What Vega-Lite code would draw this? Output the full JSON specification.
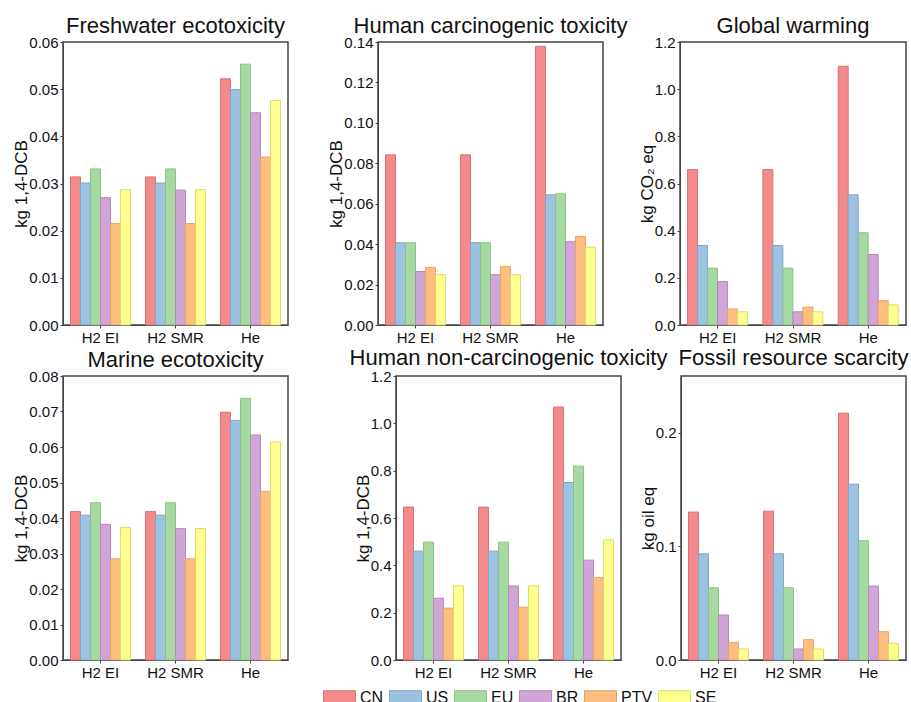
{
"$schema": "https://vega.github.io/schema/vega-lite/v6.json",
"background": "white",
"padding": {"left": 12, "top": 14, "right": 0, "bottom": 0},
"config": {
  "font": "Liberation Sans",
  "view": {"stroke": "#444", "strokeWidth": 1.5},
  "axis": {"grid": false, "domainColor": "#444", "tickColor": "#444", "tickSize": 3, "labelFont": "Liberation Sans", "labelFontSize": 15, "labelColor": "#111", "labelPadding": 2, "titleFont": "Liberation Sans", "titleFontSize": 17, "titleFontWeight": "normal", "titleColor": "#111", "titlePadding": -2},
  "title": {"font": "Liberation Sans", "fontSize": 22, "fontWeight": "normal", "color": "#111", "anchor": "middle", "frame": "group", "offset": -3},
  "legend": {"orient": "none", "legendX": 260, "legendY": 639, "direction": "horizontal", "title": null, "symbolType": "M-1,-0.44H1V0.44H-1Z", "symbolSize": 1024, "symbolStrokeWidth": 1, "labelFont": "Liberation Sans", "labelFontSize": 16, "labelColor": "#111", "labelOffset": 4, "columnPadding": 3}
},
"data": {"values": [
{"p":"FW","c":"H2 EI","k":"CN","v":0.0314},{"p":"FW","c":"H2 EI","k":"US","v":0.0301},{"p":"FW","c":"H2 EI","k":"EU","v":0.0331},{"p":"FW","c":"H2 EI","k":"BR","v":0.0270},{"p":"FW","c":"H2 EI","k":"PTV","v":0.0215},{"p":"FW","c":"H2 EI","k":"SE","v":0.0287},
{"p":"FW","c":"H2 SMR","k":"CN","v":0.0314},{"p":"FW","c":"H2 SMR","k":"US","v":0.0301},{"p":"FW","c":"H2 SMR","k":"EU","v":0.0331},{"p":"FW","c":"H2 SMR","k":"BR","v":0.0286},{"p":"FW","c":"H2 SMR","k":"PTV","v":0.0215},{"p":"FW","c":"H2 SMR","k":"SE","v":0.0287},
{"p":"FW","c":"He","k":"CN","v":0.0522},{"p":"FW","c":"He","k":"US","v":0.0499},{"p":"FW","c":"He","k":"EU","v":0.0553},{"p":"FW","c":"He","k":"BR","v":0.0450},{"p":"FW","c":"He","k":"PTV","v":0.0356},{"p":"FW","c":"He","k":"SE","v":0.0476},
{"p":"HC","c":"H2 EI","k":"CN","v":0.0842},{"p":"HC","c":"H2 EI","k":"US","v":0.0407},{"p":"HC","c":"H2 EI","k":"EU","v":0.0407},{"p":"HC","c":"H2 EI","k":"BR","v":0.0265},{"p":"HC","c":"H2 EI","k":"PTV","v":0.0285},{"p":"HC","c":"H2 EI","k":"SE","v":0.0249},
{"p":"HC","c":"H2 SMR","k":"CN","v":0.0842},{"p":"HC","c":"H2 SMR","k":"US","v":0.0407},{"p":"HC","c":"H2 SMR","k":"EU","v":0.0407},{"p":"HC","c":"H2 SMR","k":"BR","v":0.0249},{"p":"HC","c":"H2 SMR","k":"PTV","v":0.0290},{"p":"HC","c":"H2 SMR","k":"SE","v":0.0249},
{"p":"HC","c":"He","k":"CN","v":0.1379},{"p":"HC","c":"He","k":"US","v":0.0644},{"p":"HC","c":"He","k":"EU","v":0.0649},{"p":"HC","c":"He","k":"BR","v":0.0412},{"p":"HC","c":"He","k":"PTV","v":0.0438},{"p":"HC","c":"He","k":"SE","v":0.0385},
{"p":"GW","c":"H2 EI","k":"CN","v":0.659},{"p":"GW","c":"H2 EI","k":"US","v":0.337},{"p":"GW","c":"H2 EI","k":"EU","v":0.241},{"p":"GW","c":"H2 EI","k":"BR","v":0.184},{"p":"GW","c":"H2 EI","k":"PTV","v":0.068},{"p":"GW","c":"H2 EI","k":"SE","v":0.056},
{"p":"GW","c":"H2 SMR","k":"CN","v":0.659},{"p":"GW","c":"H2 SMR","k":"US","v":0.337},{"p":"GW","c":"H2 SMR","k":"EU","v":0.241},{"p":"GW","c":"H2 SMR","k":"BR","v":0.056},{"p":"GW","c":"H2 SMR","k":"PTV","v":0.076},{"p":"GW","c":"H2 SMR","k":"SE","v":0.056},
{"p":"GW","c":"He","k":"CN","v":1.097},{"p":"GW","c":"He","k":"US","v":0.552},{"p":"GW","c":"He","k":"EU","v":0.391},{"p":"GW","c":"He","k":"BR","v":0.299},{"p":"GW","c":"He","k":"PTV","v":0.103},{"p":"GW","c":"He","k":"SE","v":0.085},
{"p":"ME","c":"H2 EI","k":"CN","v":0.0418},{"p":"ME","c":"H2 EI","k":"US","v":0.0408},{"p":"ME","c":"H2 EI","k":"EU","v":0.0443},{"p":"ME","c":"H2 EI","k":"BR","v":0.0382},{"p":"ME","c":"H2 EI","k":"PTV","v":0.0285},{"p":"ME","c":"H2 EI","k":"SE","v":0.0373},
{"p":"ME","c":"H2 SMR","k":"CN","v":0.0418},{"p":"ME","c":"H2 SMR","k":"US","v":0.0408},{"p":"ME","c":"H2 SMR","k":"EU","v":0.0443},{"p":"ME","c":"H2 SMR","k":"BR","v":0.0370},{"p":"ME","c":"H2 SMR","k":"PTV","v":0.0285},{"p":"ME","c":"H2 SMR","k":"SE","v":0.0370},
{"p":"ME","c":"He","k":"CN","v":0.0698},{"p":"ME","c":"He","k":"US","v":0.0675},{"p":"ME","c":"He","k":"EU","v":0.0737},{"p":"ME","c":"He","k":"BR","v":0.0634},{"p":"ME","c":"He","k":"PTV","v":0.0475},{"p":"ME","c":"He","k":"SE","v":0.0614},
{"p":"HN","c":"H2 EI","k":"CN","v":0.646},{"p":"HN","c":"H2 EI","k":"US","v":0.460},{"p":"HN","c":"H2 EI","k":"EU","v":0.498},{"p":"HN","c":"H2 EI","k":"BR","v":0.261},{"p":"HN","c":"H2 EI","k":"PTV","v":0.219},{"p":"HN","c":"H2 EI","k":"SE","v":0.313},
{"p":"HN","c":"H2 SMR","k":"CN","v":0.646},{"p":"HN","c":"H2 SMR","k":"US","v":0.460},{"p":"HN","c":"H2 SMR","k":"EU","v":0.498},{"p":"HN","c":"H2 SMR","k":"BR","v":0.313},{"p":"HN","c":"H2 SMR","k":"PTV","v":0.223},{"p":"HN","c":"H2 SMR","k":"SE","v":0.313},
{"p":"HN","c":"He","k":"CN","v":1.069},{"p":"HN","c":"He","k":"US","v":0.750},{"p":"HN","c":"He","k":"EU","v":0.819},{"p":"HN","c":"He","k":"BR","v":0.422},{"p":"HN","c":"He","k":"PTV","v":0.348},{"p":"HN","c":"He","k":"SE","v":0.508},
{"p":"FR","c":"H2 EI","k":"CN","v":0.1302},{"p":"FR","c":"H2 EI","k":"US","v":0.0935},{"p":"FR","c":"H2 EI","k":"EU","v":0.0636},{"p":"FR","c":"H2 EI","k":"BR","v":0.0396},{"p":"FR","c":"H2 EI","k":"PTV","v":0.0155},{"p":"FR","c":"H2 EI","k":"SE","v":0.0097},
{"p":"FR","c":"H2 SMR","k":"CN","v":0.1310},{"p":"FR","c":"H2 SMR","k":"US","v":0.0935},{"p":"FR","c":"H2 SMR","k":"EU","v":0.0636},{"p":"FR","c":"H2 SMR","k":"BR","v":0.0097},{"p":"FR","c":"H2 SMR","k":"PTV","v":0.0179},{"p":"FR","c":"H2 SMR","k":"SE","v":0.0097},
{"p":"FR","c":"He","k":"CN","v":0.2173},{"p":"FR","c":"He","k":"US","v":0.1548},{"p":"FR","c":"He","k":"EU","v":0.1050},{"p":"FR","c":"He","k":"BR","v":0.0651},{"p":"FR","c":"He","k":"PTV","v":0.0249},{"p":"FR","c":"He","k":"SE","v":0.0147}
]},
"vconcat": [
 {"hconcat": [
  {"title": "Freshwater ecotoxicity", "width": 225, "height": 283,
   "transform": [{"filter": "datum.p == 'FW'"}],
   "mark": {"type": "bar", "strokeWidth": 1},
   "encoding": {
    "x": {"field": "c", "type": "nominal", "sort": ["H2 EI","H2 SMR","He"], "scale": {"paddingInner": 0.2, "paddingOuter": 0.1}, "axis": {"title": null, "labelAngle": 0}},
    "xOffset": {"field": "k", "type": "nominal", "sort": ["CN","US","EU","BR","PTV","SE"], "scale": {"paddingInner": 0, "paddingOuter": 0}},
    "y": {"field": "v", "type": "quantitative", "scale": {"domain": [0, 0.06], "nice": false}, "axis": {"title": "kg 1,4-DCB", "values": [0,0.01,0.02,0.03,0.04,0.05,0.06], "format": ".2f"}},
    "fill": {"field": "k", "type": "nominal", "sort": ["CN","US","EU","BR","PTV","SE"], "scale": {"domain": ["CN","US","EU","BR","PTV","SE"], "range": ["#F38B8C","#9CC2E1","#A7D9A3","#D0A6D6","#FDBF80","#FFFF90"]}},
    "stroke": {"field": "k", "type": "nominal", "sort": ["CN","US","EU","BR","PTV","SE"], "scale": {"domain": ["CN","US","EU","BR","PTV","SE"], "range": ["#DE7173","#7EA6C9","#88C284","#B688BE","#EBA267","#DADA70"]}}
   }},
  {"hconcat": [
   {"title": "Human carcinogenic toxicity", "width": 225, "height": 283,
    "transform": [{"filter": "datum.p == 'HC'"}],
    "mark": {"type": "bar", "strokeWidth": 1},
    "encoding": {
     "x": {"field": "c", "type": "nominal", "sort": ["H2 EI","H2 SMR","He"], "scale": {"paddingInner": 0.2, "paddingOuter": 0.1}, "axis": {"title": null, "labelAngle": 0}},
     "xOffset": {"field": "k", "type": "nominal", "sort": ["CN","US","EU","BR","PTV","SE"], "scale": {"paddingInner": 0, "paddingOuter": 0}},
     "y": {"field": "v", "type": "quantitative", "scale": {"domain": [0, 0.14], "nice": false}, "axis": {"title": "kg 1,4-DCB", "values": [0,0.02,0.04,0.06,0.08,0.10,0.12,0.14], "format": ".2f"}},
     "fill": {"field": "k", "type": "nominal", "sort": ["CN","US","EU","BR","PTV","SE"], "scale": {"domain": ["CN","US","EU","BR","PTV","SE"], "range": ["#F38B8C","#9CC2E1","#A7D9A3","#D0A6D6","#FDBF80","#FFFF90"]}},
     "stroke": {"field": "k", "type": "nominal", "sort": ["CN","US","EU","BR","PTV","SE"], "scale": {"domain": ["CN","US","EU","BR","PTV","SE"], "range": ["#DE7173","#7EA6C9","#88C284","#B688BE","#EBA267","#DADA70"]}}
    }},
   {"title": "Global warming", "width": 226, "height": 283,
    "transform": [{"filter": "datum.p == 'GW'"}],
    "mark": {"type": "bar", "strokeWidth": 1},
    "encoding": {
     "x": {"field": "c", "type": "nominal", "sort": ["H2 EI","H2 SMR","He"], "scale": {"paddingInner": 0.2, "paddingOuter": 0.1}, "axis": {"title": null, "labelAngle": 0}},
     "xOffset": {"field": "k", "type": "nominal", "sort": ["CN","US","EU","BR","PTV","SE"], "scale": {"paddingInner": 0, "paddingOuter": 0}},
     "y": {"field": "v", "type": "quantitative", "scale": {"domain": [0, 1.2], "nice": false}, "axis": {"title": "kg CO₂ eq", "values": [0,0.2,0.4,0.6,0.8,1.0,1.2], "format": ".1f"}},
     "fill": {"field": "k", "type": "nominal", "sort": ["CN","US","EU","BR","PTV","SE"], "scale": {"domain": ["CN","US","EU","BR","PTV","SE"], "range": ["#F38B8C","#9CC2E1","#A7D9A3","#D0A6D6","#FDBF80","#FFFF90"]}},
     "stroke": {"field": "k", "type": "nominal", "sort": ["CN","US","EU","BR","PTV","SE"], "scale": {"domain": ["CN","US","EU","BR","PTV","SE"], "range": ["#DE7173","#7EA6C9","#88C284","#B688BE","#EBA267","#DADA70"]}}
    }}
  ], "spacing": 77, "bounds": "flush"}
 ], "spacing": 90, "bounds": "flush"},
 {"hconcat": [
  {"title": "Marine ecotoxicity", "width": 225, "height": 284,
   "transform": [{"filter": "datum.p == 'ME'"}],
   "mark": {"type": "bar", "strokeWidth": 1},
   "encoding": {
    "x": {"field": "c", "type": "nominal", "sort": ["H2 EI","H2 SMR","He"], "scale": {"paddingInner": 0.2, "paddingOuter": 0.1}, "axis": {"title": null, "labelAngle": 0}},
    "xOffset": {"field": "k", "type": "nominal", "sort": ["CN","US","EU","BR","PTV","SE"], "scale": {"paddingInner": 0, "paddingOuter": 0}},
    "y": {"field": "v", "type": "quantitative", "scale": {"domain": [0, 0.08], "nice": false}, "axis": {"title": "kg 1,4-DCB", "values": [0,0.01,0.02,0.03,0.04,0.05,0.06,0.07,0.08], "format": ".2f"}},
    "fill": {"field": "k", "type": "nominal", "sort": ["CN","US","EU","BR","PTV","SE"], "scale": {"domain": ["CN","US","EU","BR","PTV","SE"], "range": ["#F38B8C","#9CC2E1","#A7D9A3","#D0A6D6","#FDBF80","#FFFF90"]}},
    "stroke": {"field": "k", "type": "nominal", "sort": ["CN","US","EU","BR","PTV","SE"], "scale": {"domain": ["CN","US","EU","BR","PTV","SE"], "range": ["#DE7173","#7EA6C9","#88C284","#B688BE","#EBA267","#DADA70"]}}
   }},
  {"hconcat": [
   {"title": {"text": "Human non-carcinogenic toxicity", "offset": -1}, "width": 225, "height": 284,
    "transform": [{"filter": "datum.p == 'HN'"}],
    "mark": {"type": "bar", "strokeWidth": 1},
    "encoding": {
     "x": {"field": "c", "type": "nominal", "sort": ["H2 EI","H2 SMR","He"], "scale": {"paddingInner": 0.2, "paddingOuter": 0.1}, "axis": {"title": null, "labelAngle": 0}},
     "xOffset": {"field": "k", "type": "nominal", "sort": ["CN","US","EU","BR","PTV","SE"], "scale": {"paddingInner": 0, "paddingOuter": 0}},
     "y": {"field": "v", "type": "quantitative", "scale": {"domain": [0, 1.2], "nice": false}, "axis": {"title": "kg 1,4-DCB", "values": [0,0.2,0.4,0.6,0.8,1.0,1.2], "format": ".1f"}},
     "fill": {"field": "k", "type": "nominal", "sort": ["CN","US","EU","BR","PTV","SE"], "scale": {"domain": ["CN","US","EU","BR","PTV","SE"], "range": ["#F38B8C","#9CC2E1","#A7D9A3","#D0A6D6","#FDBF80","#FFFF90"]}},
     "stroke": {"field": "k", "type": "nominal", "sort": ["CN","US","EU","BR","PTV","SE"], "scale": {"domain": ["CN","US","EU","BR","PTV","SE"], "range": ["#DE7173","#7EA6C9","#88C284","#B688BE","#EBA267","#DADA70"]}}
    }},
   {"title": {"text": "Fossil resource scarcity", "offset": 6}, "width": 225, "height": 284,
    "transform": [{"filter": "datum.p == 'FR'"}],
    "mark": {"type": "bar", "strokeWidth": 1},
    "encoding": {
     "x": {"field": "c", "type": "nominal", "sort": ["H2 EI","H2 SMR","He"], "scale": {"paddingInner": 0.2, "paddingOuter": 0.1}, "axis": {"title": null, "labelAngle": 0}},
     "xOffset": {"field": "k", "type": "nominal", "sort": ["CN","US","EU","BR","PTV","SE"], "scale": {"paddingInner": 0, "paddingOuter": 0}},
     "y": {"field": "v", "type": "quantitative", "scale": {"domain": [0, 0.25], "nice": false}, "axis": {"title": "kg oil eq", "values": [0,0.1,0.2], "format": ".1f"}},
     "fill": {"field": "k", "type": "nominal", "sort": ["CN","US","EU","BR","PTV","SE"], "scale": {"domain": ["CN","US","EU","BR","PTV","SE"], "range": ["#F38B8C","#9CC2E1","#A7D9A3","#D0A6D6","#FDBF80","#FFFF90"]}},
     "stroke": {"field": "k", "type": "nominal", "sort": ["CN","US","EU","BR","PTV","SE"], "scale": {"domain": ["CN","US","EU","BR","PTV","SE"], "range": ["#DE7173","#7EA6C9","#88C284","#B688BE","#EBA267","#DADA70"]}}
    }}
  ], "spacing": 60, "bounds": "flush"}
 ], "spacing": 108, "bounds": "flush"}
],
"spacing": 0
}
